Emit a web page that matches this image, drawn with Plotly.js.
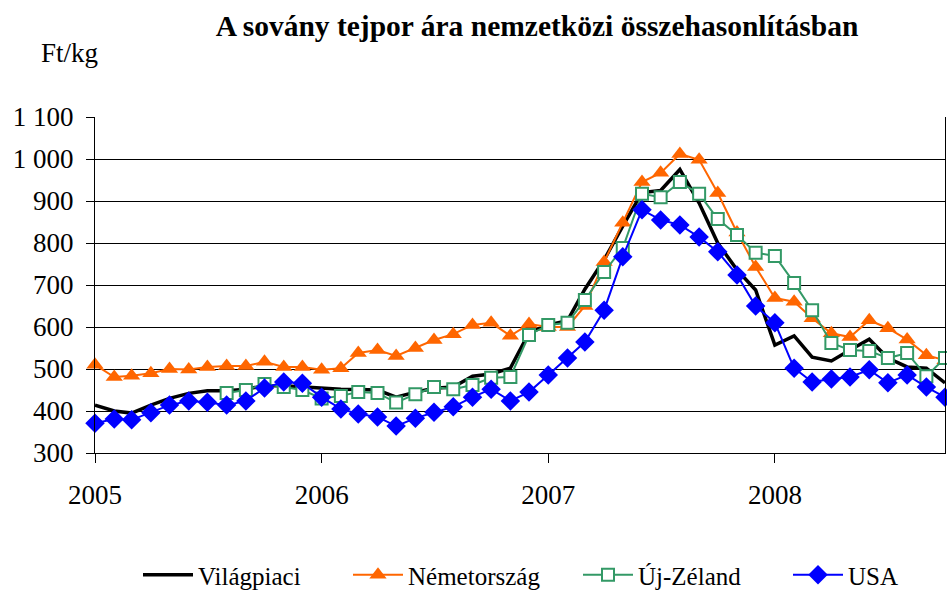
<!DOCTYPE html>
<html>
<head>
<meta charset="utf-8">
<script src="https://cdn.plot.ly/plotly-3.0.1.min.js"></script>
<style>html,body{margin:0;padding:0;background:#fff;}#chart{width:947px;height:592px;}</style>
</head>
<body>
<div id="chart"></div>
<script>
var months = ['2005-01-01','2005-02-01','2005-03-01','2005-04-01','2005-05-01','2005-06-01','2005-07-01','2005-08-01','2005-09-01','2005-10-01','2005-11-01','2005-12-01',
'2006-01-01','2006-02-01','2006-03-01','2006-04-01','2006-05-01','2006-06-01','2006-07-01','2006-08-01','2006-09-01','2006-10-01','2006-11-01','2006-12-01',
'2007-01-01','2007-02-01','2007-03-01','2007-04-01','2007-05-01','2007-06-01','2007-07-01','2007-08-01','2007-09-01','2007-10-01','2007-11-01','2007-12-01',
'2008-01-01','2008-02-01','2008-03-01','2008-04-01','2008-05-01','2008-06-01','2008-07-01','2008-08-01','2008-09-01','2008-10-01'];

var vilagpiaci = [414,400,395,414,430,442,448,448,452,460,460,457,455,452,451,450,433,445,454,457,483,488,502,586,605,615,690,760,840,920,925,975,895,800,736,688,557,579,528,519,545,571,526,505,502,467];
var nemetorszag = [510,481,484,490,500,499,505,507,507,517,505,505,498,502,538,545,531,550,569,583,605,610,579,607,600,600,650,755,848,945,967,1012,998,919,825,743,669,660,621,585,576,616,597,570,533,521];
var ujZeland = [null,null,null,null,null,null,null,443,450,464,457,450,430,436,445,443,420,440,457,452,462,479,481,581,605,610,664,731,788,917,909,945,917,857,819,777,769,705,640,562,545,543,526,538,483,526];
var usa = [371,381,379,396,414,424,421,414,424,455,469,466,433,405,393,386,364,383,397,410,433,452,424,445,486,526,564,640,767,879,855,843,814,779,724,650,610,502,469,476,481,498,467,486,457,433];

var seriesNames = ['Világpiaci','Németország','Új-Zéland','USA'];
var titleText = 'A sovány tejpor ára nemzetközi összehasonlításban';
var unitText = 'Ft/kg';

var FONT = 'Liberation Serif';

var traces = [
  {x: months, y: vilagpiaci, name: seriesNames[0], type: 'scatter', mode: 'lines', legend: 'legend',
   line: {color: '#000000', width: 3.5}, cliponaxis: false},
  {x: months, y: nemetorszag, name: seriesNames[1], type: 'scatter', mode: 'lines+markers', legend: 'legend2',
   line: {color: '#FF6600', width: 2}, marker: {symbol: 'triangle-up', size: 15, color: '#FF6600'}, cliponaxis: false},
  {x: months, y: ujZeland, name: seriesNames[2], type: 'scatter', mode: 'lines+markers', legend: 'legend3',
   line: {color: '#339966', width: 2}, marker: {symbol: 'square', size: 12, color: '#FFFFFF', line: {color: '#339966', width: 2}}, cliponaxis: false},
  {x: months, y: usa, name: seriesNames[3], type: 'scatter', mode: 'lines+markers', legend: 'legend4',
   line: {color: '#0000FF', width: 2}, marker: {symbol: 'diamond', size: 15, color: '#0000FF'}, cliponaxis: false}
];

function legendAt(px) {
  return {orientation: 'h', xref: 'container', yref: 'container', x: px / 947, xanchor: 'left',
          y: 1 - 575/592, yanchor: 'middle', itemwidth: 50,
          font: {family: FONT, size: 25, color: '#000'}, bgcolor: 'rgba(0,0,0,0)'};
}

var layout = {
  width: 947, height: 592,
  margin: {l: 95, r: 2, t: 117, b: 139},
  paper_bgcolor: '#FFFFFF', plot_bgcolor: '#FFFFFF',
  separators: ', ',
  font: {family: FONT, color: '#000000', size: 26},
  title: {text: '<b>' + titleText + '</b>', font: {family: FONT, size: 29.5, color: '#000'},
          xref: 'container', x: 537/947, xanchor: 'center', yref: 'container', y: 1 - 26/592, yanchor: 'middle'},
  xaxis: {type: 'date', range: ['2005-01-01', '2008-10-01'], dtick: 'M12', tick0: '2005-01-01', tickformat: '%Y',
          showgrid: false, zeroline: false, showline: true, linecolor: '#000', linewidth: 1,
          ticks: 'outside', ticklen: 9, tickcolor: '#000', tickwidth: 1,
          ticklabelstandoff: 9, tickfont: {family: FONT, size: 27, color: '#000'}, mirror: false},
  yaxis: {range: [300, 1100], dtick: 100, tick0: 300, separatethousands: true,
          showgrid: true, gridcolor: '#000', gridwidth: 1, zeroline: false,
          showline: true, linecolor: '#000', linewidth: 1, mirror: true,
          ticks: 'outside', ticklen: 8, tickcolor: '#000', tickwidth: 1,
          ticklabelstandoff: 7, tickfont: {family: FONT, size: 27, color: '#000'}},
  showlegend: true,
  legend: legendAt(138),
  legend2: legendAt(348),
  legend3: legendAt(578),
  legend4: legendAt(788),
  annotations: [
    {text: unitText, xref: 'paper', yref: 'paper', x: (69-95)/850, y: (453-53)/336, xanchor: 'center', yanchor: 'middle',
     showarrow: false, font: {family: FONT, size: 27, color: '#000'}}
  ]
};

Plotly.newPlot('chart', traces, layout, {displayModeBar: false, staticPlot: true});
</script>
</body>
</html>
